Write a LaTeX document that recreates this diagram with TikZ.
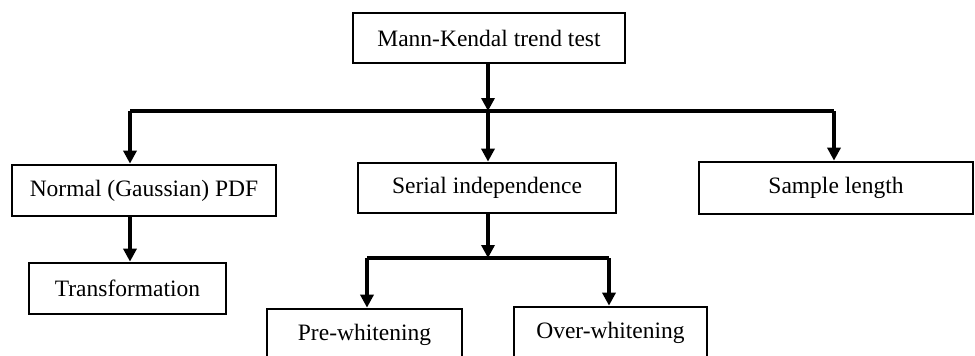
\documentclass[tikz,border=0pt]{standalone}
\usepackage{fontspec}
\setmainfont{Liberation Serif}
\usetikzlibrary{arrows.meta}
\begin{document}
\begin{tikzpicture}[x=1pt,y=-1pt,
  box/.style={draw=black,line width=2.7pt,fill=white,inner sep=0pt,
    font=\fontsize{23.5}{28}\selectfont},
  link/.style={line width=4pt},
  arr/.style={line width=4pt,-{Triangle[length=13pt,width=13pt]}}]
\useasboundingbox (0,0) rectangle (975,356);
\clip (0,0) rectangle (975,356);
\node[box,minimum width=272pt,minimum height=50pt] (top) at (489,38) {Mann-Kendal trend test};
\node[box,minimum width=264pt,minimum height=51pt] (normal) at (144,190.5) {Normal (Gaussian) PDF};
\node[box,minimum width=258pt,minimum height=50pt] (serial) at (487,188) {Serial independence};
\node[box,minimum width=274pt,minimum height=52pt] (sample) at (836,188) {Sample length};
\node[box,minimum width=197pt,minimum height=51pt] (trans) at (127.5,288.5) {Transformation};
\node[box,minimum width=195pt,minimum height=51pt] (pre) at (364.5,334.5) {Pre-whitening};
\node[box,minimum width=193pt,minimum height=51pt] (over) at (610.5,332.5) {Over-whitening};
\coordinate (hm) at (488,111);
\coordinate (hl) at (130,111);
\coordinate (hr) at (834,111);
\coordinate (sm) at (488,258);
\coordinate (sl) at (367,258);
\coordinate (sr) at (609,258);
\draw[arr] (hm |- top.south) -- (hm);
\draw[link] (hl) -- (hr);
\draw[arr] (hl) -- (hl |- normal.north);
\draw[arr] (hm) -- (hm |- serial.north);
\draw[arr] (hr) -- (hr |- sample.north);
\draw[arr] (hl |- normal.south) -- (hl |- trans.north);
\draw[arr] (sm |- serial.south) -- (sm);
\draw[link] (sl) -- (sr);
\draw[arr] (sl) -- (sl |- pre.north);
\draw[arr] (sr) -- (sr |- over.north);
\end{tikzpicture}
\end{document}
